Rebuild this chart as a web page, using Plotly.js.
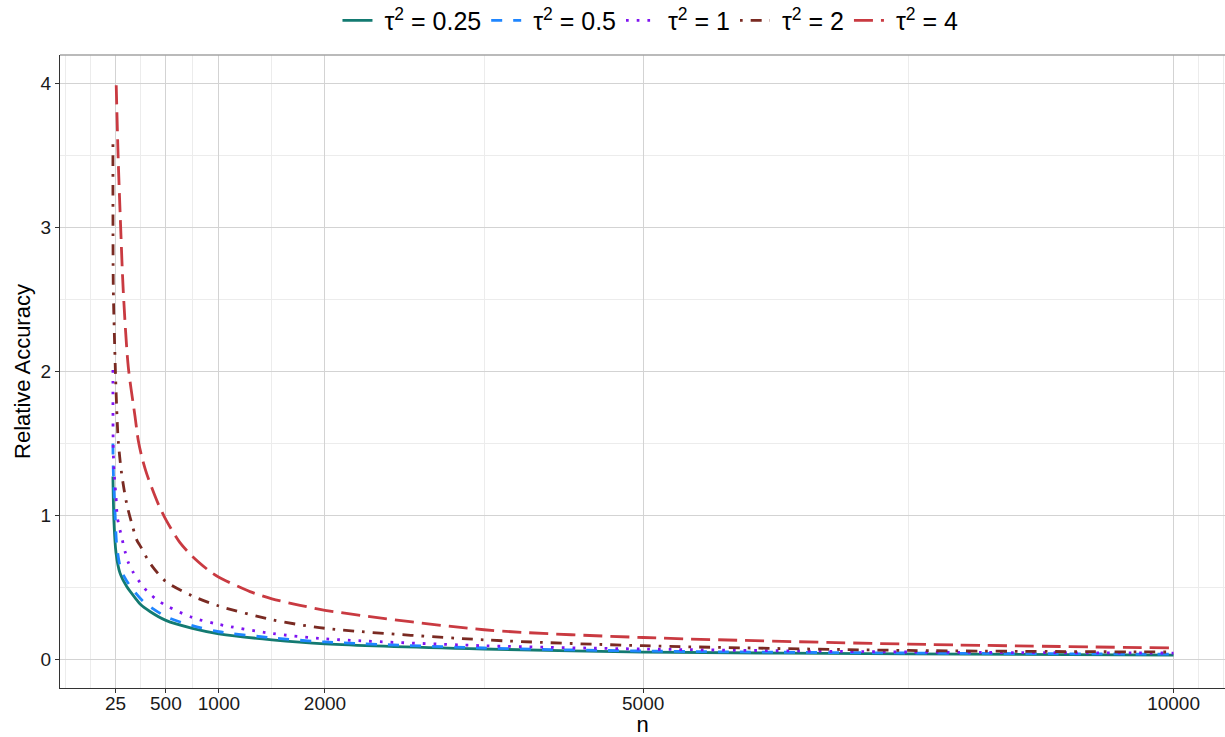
<!DOCTYPE html>
<html>
<head>
<meta charset="utf-8">
<script src="https://cdn.plot.ly/plotly-3.0.1.min.js"></script>
<style>
  html, body { margin: 0; padding: 0; background: #ffffff; }
  #chart { width: 1225px; height: 737px; }
</style>
</head>
<body>
<div id="chart"></div>
<script>
// Series labels
const seriesLabels = ["τ<sup>2</sup> = 0.25", "τ<sup>2</sup> = 0.5", "τ<sup>2</sup> = 1", "τ<sup>2</sup> = 2", "τ<sup>2</sup> = 4"];

// Values (n, relative accuracy)
const n_tau025 = [1, 11, 30, 67, 131, 225, 262, 350, 500, 750, 1000, 1500, 2000, 3500, 5000, 7500, 10000];
const y_tau025 = [1.27, 0.95, 0.74, 0.60, 0.505, 0.413, 0.38, 0.332, 0.27, 0.215, 0.177, 0.135, 0.107, 0.071, 0.05, 0.037, 0.028];

const n_tau05 = [1, 4, 10, 22, 36, 67, 110, 162, 289, 500, 750, 1000, 1500, 2000, 3500, 5000, 7500, 10000];
const y_tau05 = [1.50, 1.32, 1.20, 1.00, 0.80, 0.65, 0.57, 0.51, 0.40, 0.297, 0.233, 0.191, 0.149, 0.12, 0.078, 0.057, 0.043, 0.035];

const n_tau1 = [1, 4, 12, 22, 30, 42, 67, 89, 115, 146, 193, 256, 325, 404, 500, 750, 1000, 1500, 2000, 3500, 5000, 7500, 10000];
const y_tau1 = [2.01, 1.45, 1.30, 1.20, 1.13, 0.99, 0.90, 0.83, 0.75, 0.672, 0.603, 0.533, 0.471, 0.42, 0.374, 0.29, 0.242, 0.179, 0.142, 0.094, 0.071, 0.05, 0.043];

const n_tau2 = [1, 4, 14, 27, 36, 51, 83, 131, 178, 225, 262, 350, 500, 750, 1000, 1500, 2000, 3500, 5000, 7500, 10000];
const y_tau2 = [3.58, 2.60, 2.27, 1.94, 1.755, 1.52, 1.29, 1.08, 0.945, 0.83, 0.783, 0.668, 0.54, 0.44, 0.37, 0.275, 0.215, 0.135, 0.094, 0.061, 0.05];

const n_tau4 = [32, 51, 74, 99, 146, 209, 240, 272, 319, 428, 500, 633, 750, 916, 1000, 1293, 1500, 1765, 2000, 3500, 5000, 7500, 10000];
const y_tau4 = [3.99, 3.47, 3.00, 2.55, 2.03, 1.69, 1.52, 1.41, 1.29, 1.08, 0.97, 0.81, 0.715, 0.61, 0.57, 0.47, 0.42, 0.375, 0.34, 0.205, 0.151, 0.105, 0.078];

// Axis ticks
const xTickVals = [25, 500, 1000, 2000, 5000, 10000];
const xTickText = ["25", "500", "1000", "2000", "5000", "10000"];
const xMinorVals = [-450, -212.5, 262.5, 750, 1500, 3500, 7500, 10237.5, 10475];
const yTickVals = [0, 1, 2, 3, 4];
const yMinorVals = [0.5, 1.5, 2.5, 3.5];

const xs = [n_tau025, n_tau05, n_tau1, n_tau2, n_tau4];
const ys = [y_tau025, y_tau05, y_tau1, y_tau2, y_tau4];
const colors = ["#137a71", "#1f86ff", "#7f13f0", "#7a2a22", "#c93a41"];
const dashes = ["solid", "11px,11px", "2.7px,8px", "2.7px,8px,11px,8px", "19px,8px"];

const traces = xs.map((x, i) => ({
  type: "scatter",
  mode: "lines",
  x: x,
  y: ys[i],
  name: "&nbsp;" + seriesLabels[i],
  line: { color: colors[i], width: 2.8, dash: dashes[i], shape: "spline", smoothing: 0.8 }
}));

const gridMajor = "#d3d3d3";
const gridMinor = "#ececec";

const layout = {
  width: 1225,
  height: 737,
  margin: { l: 60, r: 0, t: 55, b: 49 },
  paper_bgcolor: "#ffffff",
  plot_bgcolor: "#ffffff",
  font: { family: "Liberation Sans, Arial, sans-serif", color: "#000000" },
  showlegend: true,
  legend: {
    orientation: "h",
    x: 0.531,
    xanchor: "center",
    xref: "container",
    y: 0.972,
    yanchor: "middle",
    yref: "container",
    font: { size: 25, color: "#000000" },
    itemwidth: 30,
    tracegroupgap: 0
  },
  xaxis: {
    range: [-498, 10485],
    tickmode: "array",
    tickvals: xTickVals,
    ticktext: xTickText,
    tickfont: { size: 19, color: "#1a1a1a" },
    ticks: "outside",
    ticklen: 4,
    tickwidth: 1,
    tickcolor: "#333333",
    ticklabelstandoff: -6,
    showgrid: true,
    gridcolor: gridMajor,
    gridwidth: 1,
    minor: { tickmode: "array", tickvals: xMinorVals, showgrid: true, gridcolor: gridMinor, gridwidth: 1, ticks: "" },
    zeroline: false,
    showline: true,
    linecolor: "#333333",
    linewidth: 1,
    title: { text: "n", font: { size: 22, color: "#000000" }, standoff: 0 }
  },
  yaxis: {
    range: [-0.2, 4.2],
    tickmode: "array",
    tickvals: yTickVals,
    ticktext: yTickVals.map(String),
    tickfont: { size: 19, color: "#1a1a1a" },
    ticks: "outside",
    ticklen: 4,
    tickwidth: 1,
    tickcolor: "#333333",
    showgrid: true,
    gridcolor: gridMajor,
    gridwidth: 1,
    minor: { tickmode: "array", tickvals: yMinorVals, showgrid: true, gridcolor: gridMinor, gridwidth: 1, ticks: "" },
    zeroline: false,
    showline: true,
    linecolor: "#333333",
    linewidth: 1,
    title: { text: "Relative Accuracy", font: { size: 22, color: "#000000" }, standoff: 3 }
  },
  shapes: [
    { type: "line", xref: "paper", yref: "paper", x0: 0, x1: 1, y0: 1, y1: 1,
      line: { color: "#a3a3a3", width: 1.6 }, layer: "above" }
  ]
};

Plotly.newPlot("chart", traces, layout, { displayModeBar: false, staticPlot: true });
</script>
</body>
</html>
